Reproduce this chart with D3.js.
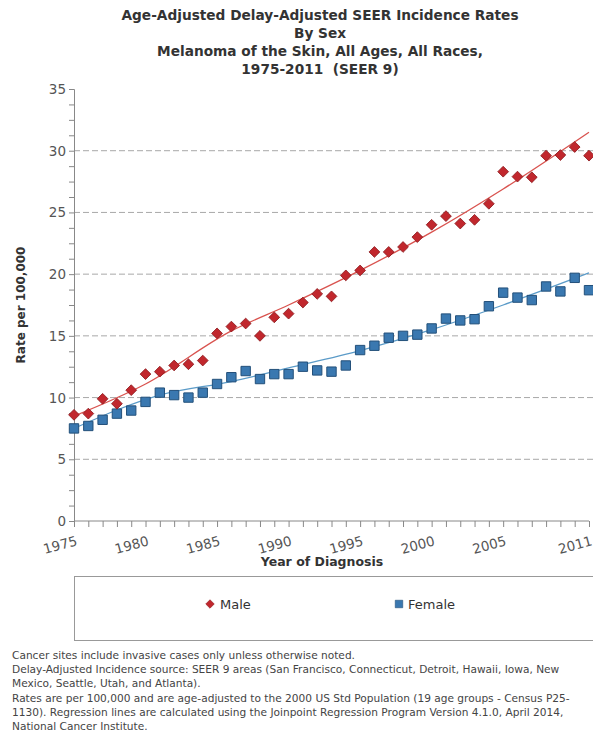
<!DOCTYPE html>
<html>
<head>
<meta charset="utf-8">
<script src="https://cdn.jsdelivr.net/npm/d3@7"></script>
<style>
  html, body { margin: 0; padding: 0; background: #fff; }
  svg { display: block; font-family: "DejaVu Sans", Verdana, sans-serif; }
</style>
</head>
<body>
<svg id="chart" width="593" height="733"></svg>
<script>
// Observed age-adjusted rates per 100,000, one value per diagnosis year
const years = d3.range(1975, 2012);
const maleRates = [8.6, 8.7, 9.9, 9.5, 10.6, 11.9, 12.1, 12.6, 12.7, 13.0,
  15.2, 15.75, 16.0, 15.0, 16.5, 16.8, 17.7, 18.4, 18.2, 19.9,
  20.3, 21.8, 21.8, 22.2, 23.0, 24.0, 24.7, 24.1, 24.4, 25.7,
  28.3, 27.9, 27.85, 29.6, 29.65, 30.3, 29.6];
const femaleRates = [7.5, 7.7, 8.2, 8.7, 8.95, 9.65, 10.4, 10.2, 10.0, 10.4,
  11.1, 11.65, 12.15, 11.5, 11.9, 11.9, 12.5, 12.2, 12.1, 12.6,
  13.85, 14.2, 14.85, 15.0, 15.1, 15.6, 16.4, 16.25, 16.35, 17.4,
  18.5, 18.1, 17.9, 19.0, 18.6, 19.7, 18.7];

// Joinpoint regression fits, sampled at a few years
const maleFitYears = [1975, 1980, 1986, 1990, 1995, 2000, 2005, 2011];
const maleFit = [8.5, 11.1, 15.4, 17.5, 20.3, 23.4, 26.9, 31.5];
const femaleFitYears = [1975, 1981, 1986, 1990, 1995, 2000, 2005, 2011];
const femaleFit = [7.5, 10.2, 11.3, 12.4, 13.8, 15.5, 17.5, 20.1];

const yTicks = [0, 5, 10, 15, 20, 25, 30, 35];
const xTickLabels = [1975, 1980, 1985, 1990, 1995, 2000, 2005, 2011];

const titleLines = [
  "Age-Adjusted Delay-Adjusted SEER Incidence Rates",
  "By Sex",
  "Melanoma of the Skin, All Ages, All Races,",
  "1975-2011\u00a0\u00a0(SEER 9)"
];
const footnotes = [
  "Cancer sites include invasive cases only unless otherwise noted.",
  "Delay-Adjusted Incidence source: SEER 9 areas (San Francisco, Connecticut, Detroit, Hawaii, Iowa, New",
  "Mexico, Seattle, Utah, and Atlanta).",
  "Rates are per 100,000 and are age-adjusted to the 2000 US Std Population (19 age groups - Census P25-",
  "1130). Regression lines are calculated using the Joinpoint Regression Program Version 4.1.0, April 2014,",
  "National Cancer Institute."
];

const colors = {
  male: "#c1272d", maleStroke: "#8e1b1f", maleLine: "#d9534f",
  female: "#3a78b0", femaleStroke: "#23507a", femaleLine: "#5b9bc8"
};

const svg = d3.select("#chart");
const x = d3.scaleLinear().domain([1975, 2011]).range([74, 589]);
const y = d3.scaleLinear().domain([0, 35]).range([521, 89]);

// Title
svg.append("g").selectAll("text").data(titleLines).join("text")
  .attr("x", 320).attr("y", (d, i) => 20 + i * 18)
  .attr("text-anchor", "middle")
  .attr("font-size", 13.7).attr("font-weight", "bold").attr("fill", "#333")
  .text(d => d);

// Dashed grid lines
svg.append("g").selectAll("line").data(yTicks.filter(v => v > 0 && v < 35)).join("line")
  .attr("x1", x(1975)).attr("x2", 593)
  .attr("y1", d => y(d)).attr("y2", d => y(d))
  .attr("stroke", "#a8a8a8").attr("stroke-width", 1)
  .attr("stroke-dasharray", "6,3");

// Y axis with minor ticks
const yAxis = d3.axisLeft(y).tickValues(d3.range(0, 35.01, 1.25))
  .tickSize(5).tickFormat("");
const gy = svg.append("g").attr("transform", `translate(${x(1975)},0)`).call(yAxis);
gy.select(".domain").attr("stroke", "#888");
gy.selectAll(".tick line").attr("stroke", "#888");

svg.append("g").selectAll("text").data(yTicks).join("text")
  .attr("x", 66).attr("y", d => y(d) + 5)
  .attr("text-anchor", "end").attr("font-size", 13.5).attr("fill", "#555")
  .text(d => d);

// X axis with yearly ticks
const xAxis = d3.axisBottom(x).tickValues(years).tickSize(6).tickFormat("");
const gx = svg.append("g").attr("transform", `translate(0,${y(0)})`).call(xAxis);
gx.select(".domain").attr("stroke", "#888").attr("d", `M${x(1975)},0H${x(2011)}`);
gx.selectAll(".tick line").attr("stroke", "#888");

svg.append("g").selectAll("text").data(xTickLabels).join("text")
  .attr("transform", d => `translate(${x(d) + 4},${y(0) + 24}) rotate(-15)`)
  .attr("text-anchor", "end").attr("font-size", 13.5).attr("fill", "#555")
  .text(d => d);

// Axis titles
svg.append("text")
  .attr("transform", `translate(25,${(y(0) + y(35)) / 2}) rotate(-90)`)
  .attr("text-anchor", "middle").attr("font-size", 12).attr("font-weight", "bold")
  .attr("fill", "#333").text("Rate per 100,000");
svg.append("text")
  .attr("x", 322).attr("y", 566)
  .attr("text-anchor", "middle").attr("font-size", 12.5).attr("font-weight", "bold")
  .attr("fill", "#333").text("Year of Diagnosis");

// Regression lines
const line = d3.line().x(d => x(d[0])).y(d => y(d[1])).curve(d3.curveMonotoneX);
svg.append("path").datum(d3.zip(maleFitYears, maleFit))
  .attr("d", line).attr("fill", "none").attr("stroke", colors.maleLine).attr("stroke-width", 1.3);
svg.append("path").datum(d3.zip(femaleFitYears, femaleFit))
  .attr("d", line).attr("fill", "none").attr("stroke", colors.femaleLine).attr("stroke-width", 1.3);

// Markers
const diamond = d3.symbol(d3.symbolSquare, 58);
const square = d3.symbol(d3.symbolSquare, 88);
svg.append("g").selectAll("path").data(d3.zip(years, femaleRates)).join("path")
  .attr("d", square)
  .attr("transform", d => `translate(${x(d[0])},${y(d[1])})`)
  .attr("fill", colors.female).attr("stroke", colors.femaleStroke).attr("stroke-width", 1);
svg.append("g").selectAll("path").data(d3.zip(years, maleRates)).join("path")
  .attr("d", diamond)
  .attr("transform", d => `translate(${x(d[0])},${y(d[1])}) rotate(45)`)
  .attr("fill", colors.male).attr("stroke", colors.maleStroke).attr("stroke-width", 0.8);

// Legend
const lg = svg.append("g");
lg.append("rect").attr("x", 74.5).attr("y", 576.5).attr("width", 540).attr("height", 64)
  .attr("fill", "#fff").attr("stroke", "#999");
lg.append("path").attr("d", d3.symbol(d3.symbolSquare, 36))
  .attr("transform", "translate(210,604) rotate(45)")
  .attr("fill", colors.male).attr("stroke", colors.maleStroke).attr("stroke-width", 0.6);
lg.append("text").attr("x", 220).attr("y", 609).attr("font-size", 13).attr("fill", "#333").text("Male");
lg.append("path").attr("d", d3.symbol(d3.symbolSquare, 56))
  .attr("transform", "translate(399,604)")
  .attr("fill", colors.female).attr("stroke", colors.femaleStroke).attr("stroke-width", 0.6);
lg.append("text").attr("x", 408).attr("y", 609).attr("font-size", 13).attr("fill", "#333").text("Female");

// Footnotes
svg.append("g").selectAll("text").data(footnotes).join("text")
  .attr("x", 12).attr("y", (d, i) => 659 + i * 14.2)
  .attr("font-size", 10.6).attr("fill", "#444")
  .text(d => d);
</script>
</body>
</html>
